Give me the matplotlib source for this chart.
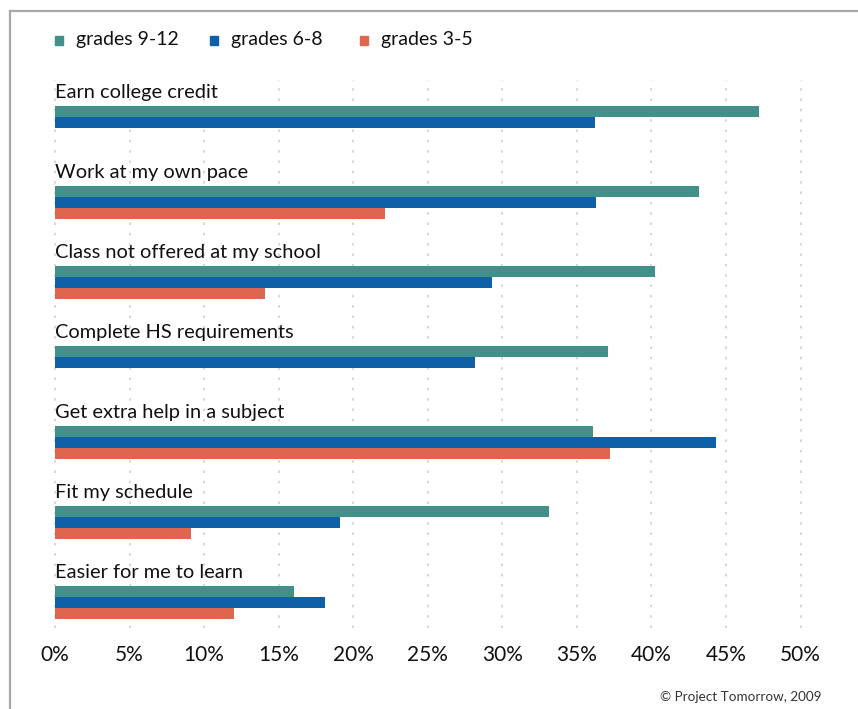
import matplotlib
matplotlib.use("Agg")
import matplotlib.pyplot as plt
from matplotlib.patches import Rectangle
from matplotlib.lines import Line2D
import numpy as np

categories = ["Earn college credit", "Work at my own pace", "Class not offered at my school",
              "Complete HS requirements", "Get extra help in a subject", "Fit my schedule",
              "Easier for me to learn"]
series_names = ["grades 9-12", "grades 6-8", "grades 3-5"]
grades_9_12 = [47.2, 43.2, 40.25, 37.1, 36.1, 33.1, 16.0]
grades_6_8 = [36.2, 36.3, 29.3, 28.2, 44.3, 19.1, 18.1]
grades_3_5 = [0, 22.1, 14.1, 0, 37.2, 9.1, 12.0]
colors = ["#42908A", "#1060A8", "#DF664E"]
xticks = [0, 5, 10, 15, 20, 25, 30, 35, 40, 45, 50]
xticklabels = [f"{t}%" for t in xticks]
credit = "© Project Tomorrow, 2009"

FONT = "Lato"
W, H = 858, 709
fig = plt.figure(figsize=(W / 100, H / 100), dpi=100)

ax_left, ax_right, ax_top, ax_bottom = 55, 800.5, 80, 628
ax = fig.add_axes([ax_left / W, 1 - ax_bottom / H, (ax_right - ax_left) / W, (ax_bottom - ax_top) / H])
pitch = 80.0
span = (ax_bottom - ax_top) / pitch
ax.set_xlim(0, 50)
ax.set_ylim(span, 0)

bh = 11 / pitch
first = (106 - ax_top) / pitch
series = [grades_9_12, grades_6_8, grades_3_5]
for k, (vals, c) in enumerate(zip(series, colors)):
    ys = np.arange(len(categories)) + first + k * bh
    ax.barh(ys, vals, height=bh, color=c, align="edge", zorder=2)

for i, cat in enumerate(categories):
    ax.text(0, i + (98 - ax_top) / pitch, cat, fontsize=14.4, family=FONT, color="#111111",
            va="baseline", ha="left", zorder=3)

for t in xticks:
    ax.axvline(t, color="#cfcfcf", lw=1.2, ls=(0, (1.5, 4.7)), zorder=1, clip_on=False)

ax.set_xticks(xticks)
ax.set_xticklabels(xticklabels, fontsize=15, family=FONT, color="#111111")
ax.tick_params(axis="x", length=0, pad=12)
ax.set_yticks([])
for s in ax.spines.values():
    s.set_visible(False)

# legend
leg_x = [55, 210, 360]
for name, c, x in zip(series_names, colors, leg_x):
    fig.patches.append(Rectangle((x / W, 1 - 45 / H), 8 / W, 9 / H, transform=fig.transFigure,
                                 color=c))
    fig.text((x + 21) / W, 1 - 45 / H, name, fontsize=14, family=FONT, color="#111111",
             va="baseline", ha="left")

# frame
fig.add_artist(Line2D([10 / W, 10 / W], [0, 1 - 11 / H], color="#a8a8a8", lw=1.6,
                      transform=fig.transFigure))
fig.add_artist(Line2D([10 / W, 1], [1 - 11 / H, 1 - 11 / H], color="#a8a8a8", lw=1.6,
                      transform=fig.transFigure))

fig.text(822 / W, 1 - 697 / H, credit, fontsize=9.7, family=FONT, color="#333333",
         ha="right", va="center")

fig.savefig("out.png", dpi=100)
